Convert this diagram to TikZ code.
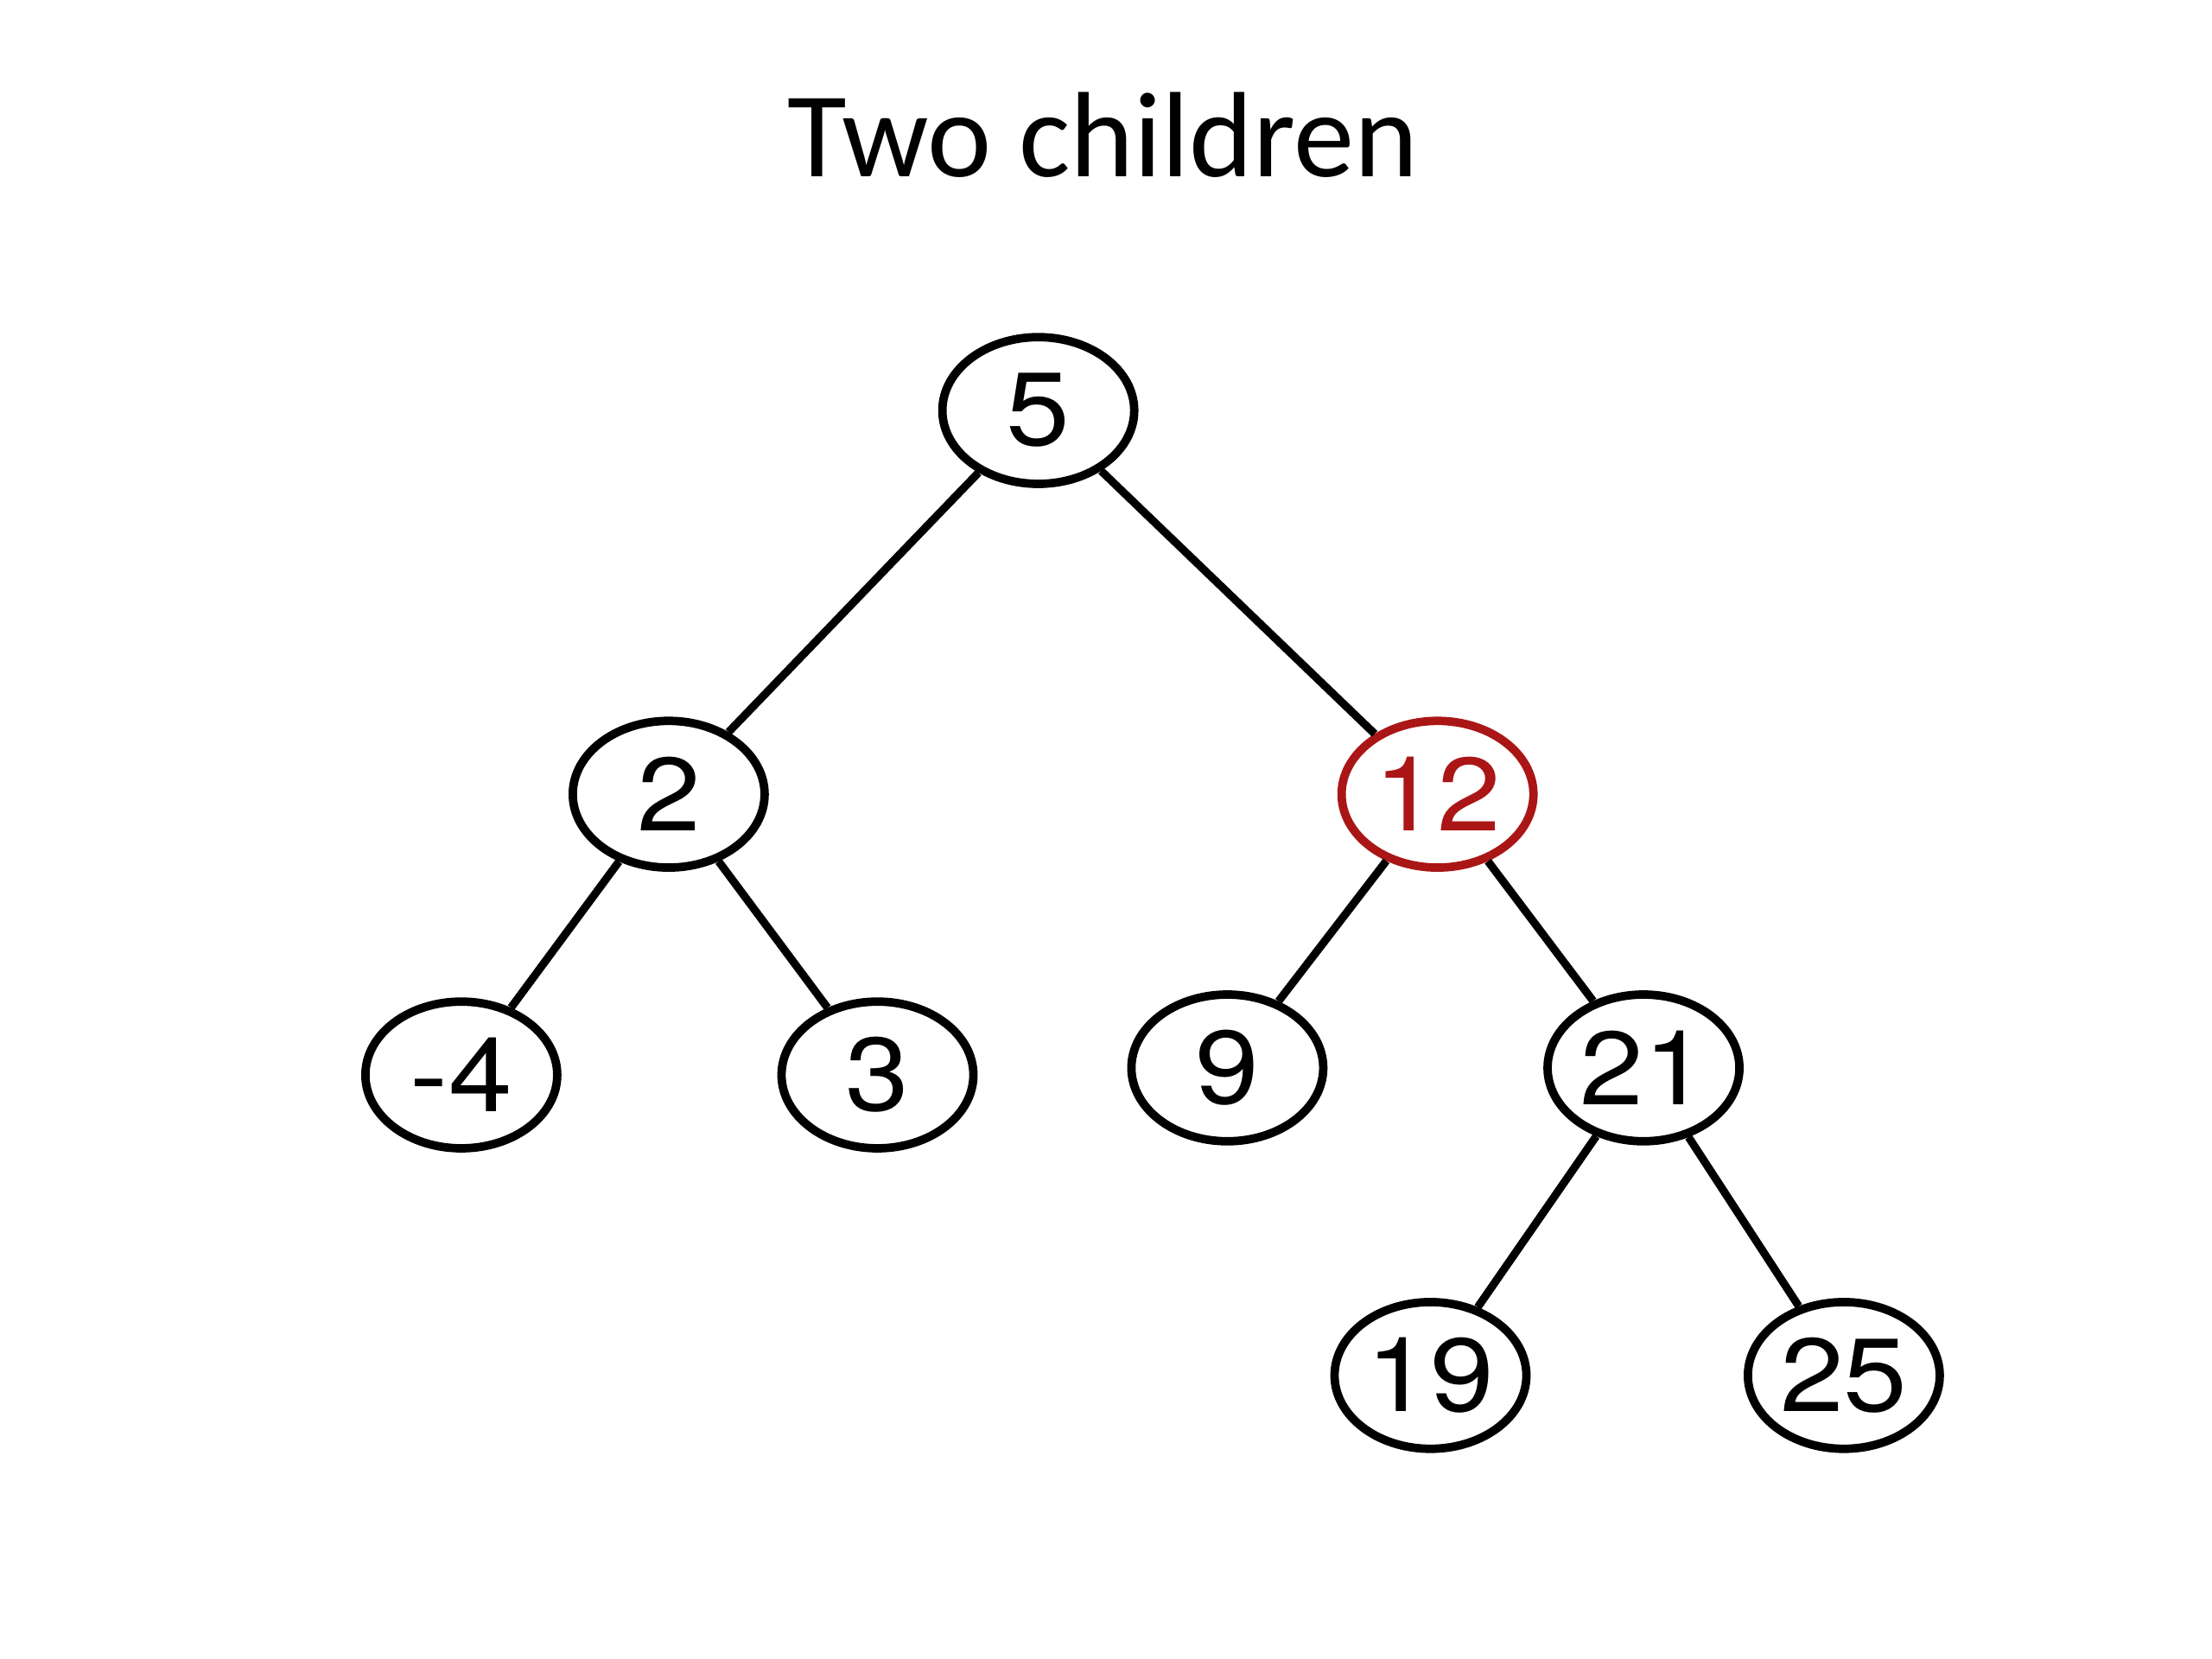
\documentclass[tikz,border=0pt]{standalone}
\usepackage{fontspec}
\setmainfont{TeX Gyre Heros}
\newfontfamily\titlefont{Carlito}
\newfontfamily\keyfont[FakeStretch=1.1]{TeX Gyre Heros}
\usetikzlibrary{shapes.geometric}
\definecolor{hlred}{RGB}{170,22,22}
\tikzset{
  key/.style={ellipse, draw, line width=1.7pt, minimum width=13.6mm, minimum height=10.4mm,
              inner sep=0pt, font=\keyfont\fontsize{21}{21}\selectfont},
  hot/.style={key, draw=hlred, text=hlred},
  edge/.style={line width=1.6pt, draw=black},
  ttl/.style={font=\titlefont\fontsize{24.5}{24.5}\selectfont},
}
\begin{document}
\begin{tikzpicture}
  \useasboundingbox (0,0) rectangle (15.68,-11.76);
  \node[ttl, anchor=base] (title) at (7.82,-1.25) {Two children};
  \node[key] (n5) at (7.36,-2.91) {5};
  \node[key] (n2) at (4.74,-5.63) {2};
  \node[hot] (n12) at (10.19,-5.63) {12};
  \node[key] (nm4) at (3.27,-7.62) {-4};
  \node[key] (n3) at (6.22,-7.62) {3};
  \node[key] (n9) at (8.70,-7.57) {9};
  \node[key] (n21) at (11.65,-7.57) {21};
  \node[key] (n19) at (10.14,-9.75) {19};
  \node[key] (n25) at (13.07,-9.75) {25};
  \draw[edge] (n5) -- (n2);
  \draw[edge] (n5) -- (n12);
  \draw[edge] (n2) -- (nm4);
  \draw[edge] (n2) -- (n3);
  \draw[edge] (n12) -- (n9);
  \draw[edge] (n12) -- (n21);
  \draw[edge] (n21) -- (n19);
  \draw[edge] (n21) -- (n25);
\end{tikzpicture}
\end{document}
